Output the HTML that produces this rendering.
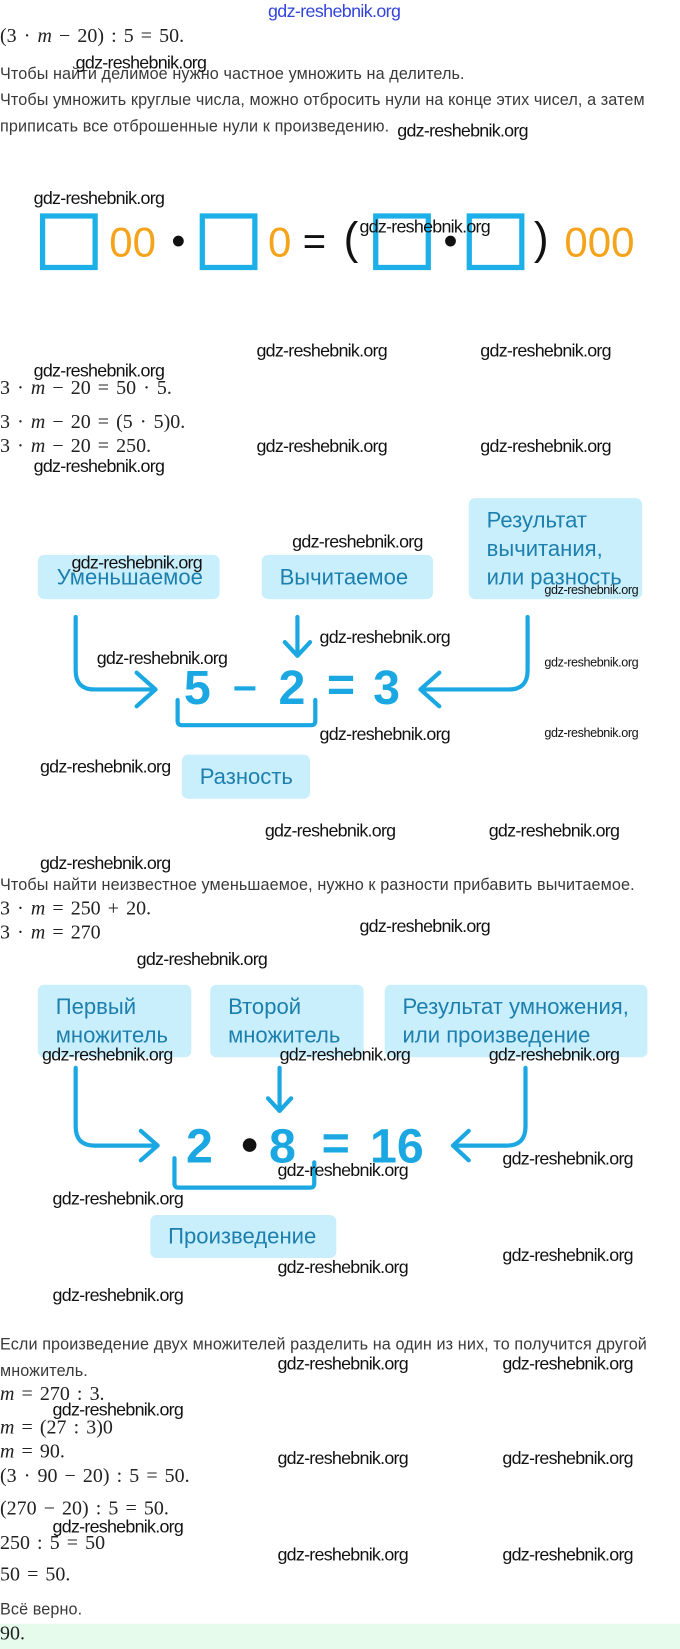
<!DOCTYPE html>
<html><head><meta charset="utf-8"><style>
body{margin:0;width:680px;height:1648px;position:relative;background:#fff;overflow:hidden;font-family:"Liberation Sans",sans-serif;color:#333}
#c{position:absolute;left:0;top:0;width:647px;height:1568px;transform:scale(1.051);transform-origin:0 0}
.a{position:absolute;white-space:nowrap}
.t{font-size:15.4px;color:#3a3a3a;letter-spacing:0.1px}
.m{font-family:"Liberation Serif",serif;font-size:19px;color:#222;word-spacing:2px}
.w{font-family:"Liberation Sans",sans-serif;font-size:17px;color:#111;letter-spacing:-0.7px}
.ws{font-size:12px;color:#111;letter-spacing:-0.4px}
.box{position:absolute;background:#c9effc;border-radius:6px;color:#1d7fae;font-size:21px;line-height:27px;box-sizing:border-box}
.eq{position:absolute;font-size:46px;font-weight:bold;color:#1aa7e2;line-height:46px}
.sq{position:absolute;border:5px solid #1db0e8;box-sizing:border-box;width:55px;height:54px;top:203px}
.o{position:absolute;font-size:40px;color:#f5a31a;top:209px;line-height:44px}
.k{position:absolute;font-size:38px;color:#111;top:208px;line-height:44px}
</style></head><body><div id="c">
<div class="a" style="left:255px;top:1px;font-size:17px;color:#3344dd;letter-spacing:-0.6px">gdz-reshebnik.org</div>
<div class="a m" style="left:0;top:24px">(3 · <i>m</i> − 20) : 5 = 50.</div>
<div class="a t" style="left:0;top:62px">Чтобы найти делимое нужно частное умножить на делитель.</div>
<div class="a t" style="left:0;top:87px">Чтобы умножить круглые числа, можно отбросить нули на конце этих чисел, а затем</div>
<div class="a t" style="left:0;top:112px">приписать все отброшенные нули к произведению.</div>
<div class="a w" style="left:72px;top:50px">gdz-reshebnik.org</div>
<div class="a w" style="left:378px;top:115px">gdz-reshebnik.org</div>
<div class="a w" style="left:32px;top:179px">gdz-reshebnik.org</div>

<div class="sq" style="left:38px"></div>
<div class="o" style="left:104px">00</div>
<div class="k" style="left:163px">•</div>
<div class="sq" style="left:190px"></div>
<div class="o" style="left:255px">0</div>
<div class="k" style="left:288px">=</div>
<div class="k" style="left:327px;font-size:42px;top:205px">(</div>
<div class="sq" style="left:355px"></div>
<div class="k" style="left:422px">•</div>
<div class="sq" style="left:444px"></div>
<div class="k" style="left:508px;font-size:42px;top:205px">)</div>
<div class="o" style="left:537px">000</div>
<div class="a w" style="left:342px;top:206px">gdz-reshebnik.org</div>

<div class="a w" style="left:244px;top:324px">gdz-reshebnik.org</div>
<div class="a w" style="left:457px;top:324px">gdz-reshebnik.org</div>
<div class="a w" style="left:32px;top:343px">gdz-reshebnik.org</div>
<div class="a m" style="left:0;top:359px">3 · <i>m</i> − 20 = 50 · 5.</div>
<div class="a m" style="left:0;top:391px">3 · <i>m</i> − 20 = (5 · 5)0.</div>
<div class="a m" style="left:0;top:414px">3 · <i>m</i> − 20 = 250.</div>
<div class="a w" style="left:244px;top:415px">gdz-reshebnik.org</div>
<div class="a w" style="left:457px;top:415px">gdz-reshebnik.org</div>
<div class="a w" style="left:32px;top:434px">gdz-reshebnik.org</div>

<div class="box" style="left:36px;top:528px;width:173px;height:42px;padding:8px 0 0 18px">Уменьшаемое</div>
<div class="box" style="left:249px;top:528px;width:163px;height:42px;padding:8px 0 0 17px">Вычитаемое</div>
<div class="box" style="left:446px;top:474px;width:165px;height:96px;padding:8px 0 0 17px;line-height:27px">Результат<br>вычитания,<br>или разность</div>
<div class="box" style="left:173px;top:718px;width:122px;height:42px;padding:8px 0 0 17px">Разность</div>
<div class="eq" style="left:175px;top:631px">5</div>
<div class="a" style="left:223px;top:653px;width:20px;height:4px;background:#1aa7e2"></div>
<div class="eq" style="left:265px;top:631px">2</div>
<div class="eq" style="left:311px;top:628px">=</div>
<div class="eq" style="left:355px;top:631px">3</div>
<svg class="a" style="left:0;top:0" width="647" height="1568" fill="none" stroke="#1aa7e2" stroke-width="4" stroke-linecap="round" stroke-linejoin="round">
<path d="M72 587 V638 Q72 656 90 656 H146 M130 640 L148 656 L130 672"/>
<path d="M283 587 V623 M271 611 L283 624 L295 611"/>
<path d="M502 587 V638 Q502 656 484 656 H402 M418 640 L400 656 L418 672"/>
<path d="M169 666 V686 Q169 690 173 690 H296 Q300 690 300 686 V666"/>
<path d="M72 1016 V1072 Q72 1090 90 1090 H148 M134 1076 L150 1090 L134 1104"/>
<path d="M266 1016 V1056 M255 1045 L266 1057 L277 1045"/>
<path d="M500 1016 V1072 Q500 1090 482 1090 H432 M446 1076 L431 1090 L446 1104"/>
<path d="M166 1102 V1126 Q166 1130 170 1130 H295 Q299 1130 299 1126 V1106"/>
</svg>
<div class="a w" style="left:278px;top:506px">gdz-reshebnik.org</div>
<div class="a w" style="left:68px;top:526px">gdz-reshebnik.org</div>
<div class="a ws" style="left:518px;top:554px">gdz-reshebnik.org</div>
<div class="a w" style="left:304px;top:597px">gdz-reshebnik.org</div>
<div class="a w" style="left:92px;top:617px">gdz-reshebnik.org</div>
<div class="a ws" style="left:518px;top:623px">gdz-reshebnik.org</div>
<div class="a w" style="left:304px;top:689px">gdz-reshebnik.org</div>
<div class="a ws" style="left:518px;top:690px">gdz-reshebnik.org</div>
<div class="a w" style="left:38px;top:720px">gdz-reshebnik.org</div>
<div class="a w" style="left:252px;top:781px">gdz-reshebnik.org</div>
<div class="a w" style="left:465px;top:781px">gdz-reshebnik.org</div>
<div class="a w" style="left:38px;top:812px">gdz-reshebnik.org</div>
<div class="a t" style="left:0;top:834px">Чтобы найти неизвестное уменьшаемое, нужно к разности прибавить вычитаемое.</div>
<div class="a m" style="left:0;top:854px">3 · <i>m</i> = 250 + 20.</div>
<div class="a m" style="left:0;top:877px">3 · <i>m</i> = 270</div>
<div class="a w" style="left:342px;top:872px">gdz-reshebnik.org</div>
<div class="a w" style="left:130px;top:903px">gdz-reshebnik.org</div>

<div class="box" style="left:36px;top:937px;width:146px;height:69px;padding:8px 0 0 17px;line-height:27px">Первый<br>множитель</div>
<div class="box" style="left:200px;top:937px;width:146px;height:69px;padding:8px 0 0 17px;line-height:27px">Второй<br>множитель</div>
<div class="box" style="left:366px;top:937px;width:250px;height:69px;padding:8px 0 0 17px;line-height:27px">Результат умножения,<br>или произведение</div>
<div class="box" style="left:143px;top:1156px;width:177px;height:41px;padding:7px 0 0 17px">Произведение</div>
<div class="eq" style="left:177px;top:1067px">2</div>
<div class="a" style="left:231px;top:1083px;width:13px;height:13px;border-radius:50%;background:#111"></div>
<div class="eq" style="left:256px;top:1067px">8</div>
<div class="eq" style="left:306px;top:1064px">=</div>
<div class="eq" style="left:352px;top:1067px">16</div>
<div class="a w" style="left:40px;top:994px">gdz-reshebnik.org</div>
<div class="a w" style="left:266px;top:994px">gdz-reshebnik.org</div>
<div class="a w" style="left:465px;top:994px">gdz-reshebnik.org</div>
<div class="a w" style="left:478px;top:1093px">gdz-reshebnik.org</div>
<div class="a w" style="left:264px;top:1104px">gdz-reshebnik.org</div>
<div class="a w" style="left:50px;top:1131px">gdz-reshebnik.org</div>
<div class="a w" style="left:478px;top:1185px">gdz-reshebnik.org</div>
<div class="a w" style="left:264px;top:1196px">gdz-reshebnik.org</div>
<div class="a w" style="left:50px;top:1223px">gdz-reshebnik.org</div>
<div class="a t" style="left:0;top:1271px">Если произведение двух множителей разделить на один из них, то получится другой</div>
<div class="a t" style="left:0;top:1296px">множитель.</div>
<div class="a w" style="left:264px;top:1288px">gdz-reshebnik.org</div>
<div class="a w" style="left:478px;top:1288px">gdz-reshebnik.org</div>
<div class="a m" style="left:0;top:1316px"><i>m</i> = 270 : 3.</div>
<div class="a w" style="left:50px;top:1332px">gdz-reshebnik.org</div>
<div class="a m" style="left:0;top:1348px"><i>m</i> = (27 : 3)0</div>
<div class="a m" style="left:0;top:1371px"><i>m</i> = 90.</div>
<div class="a w" style="left:264px;top:1378px">gdz-reshebnik.org</div>
<div class="a w" style="left:478px;top:1378px">gdz-reshebnik.org</div>
<div class="a m" style="left:0;top:1394px">(3 · 90 − 20) : 5 = 50.</div>
<div class="a m" style="left:0;top:1425px">(270 − 20) : 5 = 50.</div>
<div class="a w" style="left:50px;top:1443px">gdz-reshebnik.org</div>
<div class="a m" style="left:0;top:1458px">250 : 5 = 50</div>
<div class="a w" style="left:264px;top:1470px">gdz-reshebnik.org</div>
<div class="a w" style="left:478px;top:1470px">gdz-reshebnik.org</div>
<div class="a m" style="left:0;top:1488px">50 = 50.</div>
<div class="a t" style="left:0;top:1523px">Всё верно.</div>
<div class="a" style="left:0;top:1545px;width:647px;height:24px;background:#e6fbec"></div>
<div class="a m" style="left:0;top:1544px">90.</div>
</div></body></html>
